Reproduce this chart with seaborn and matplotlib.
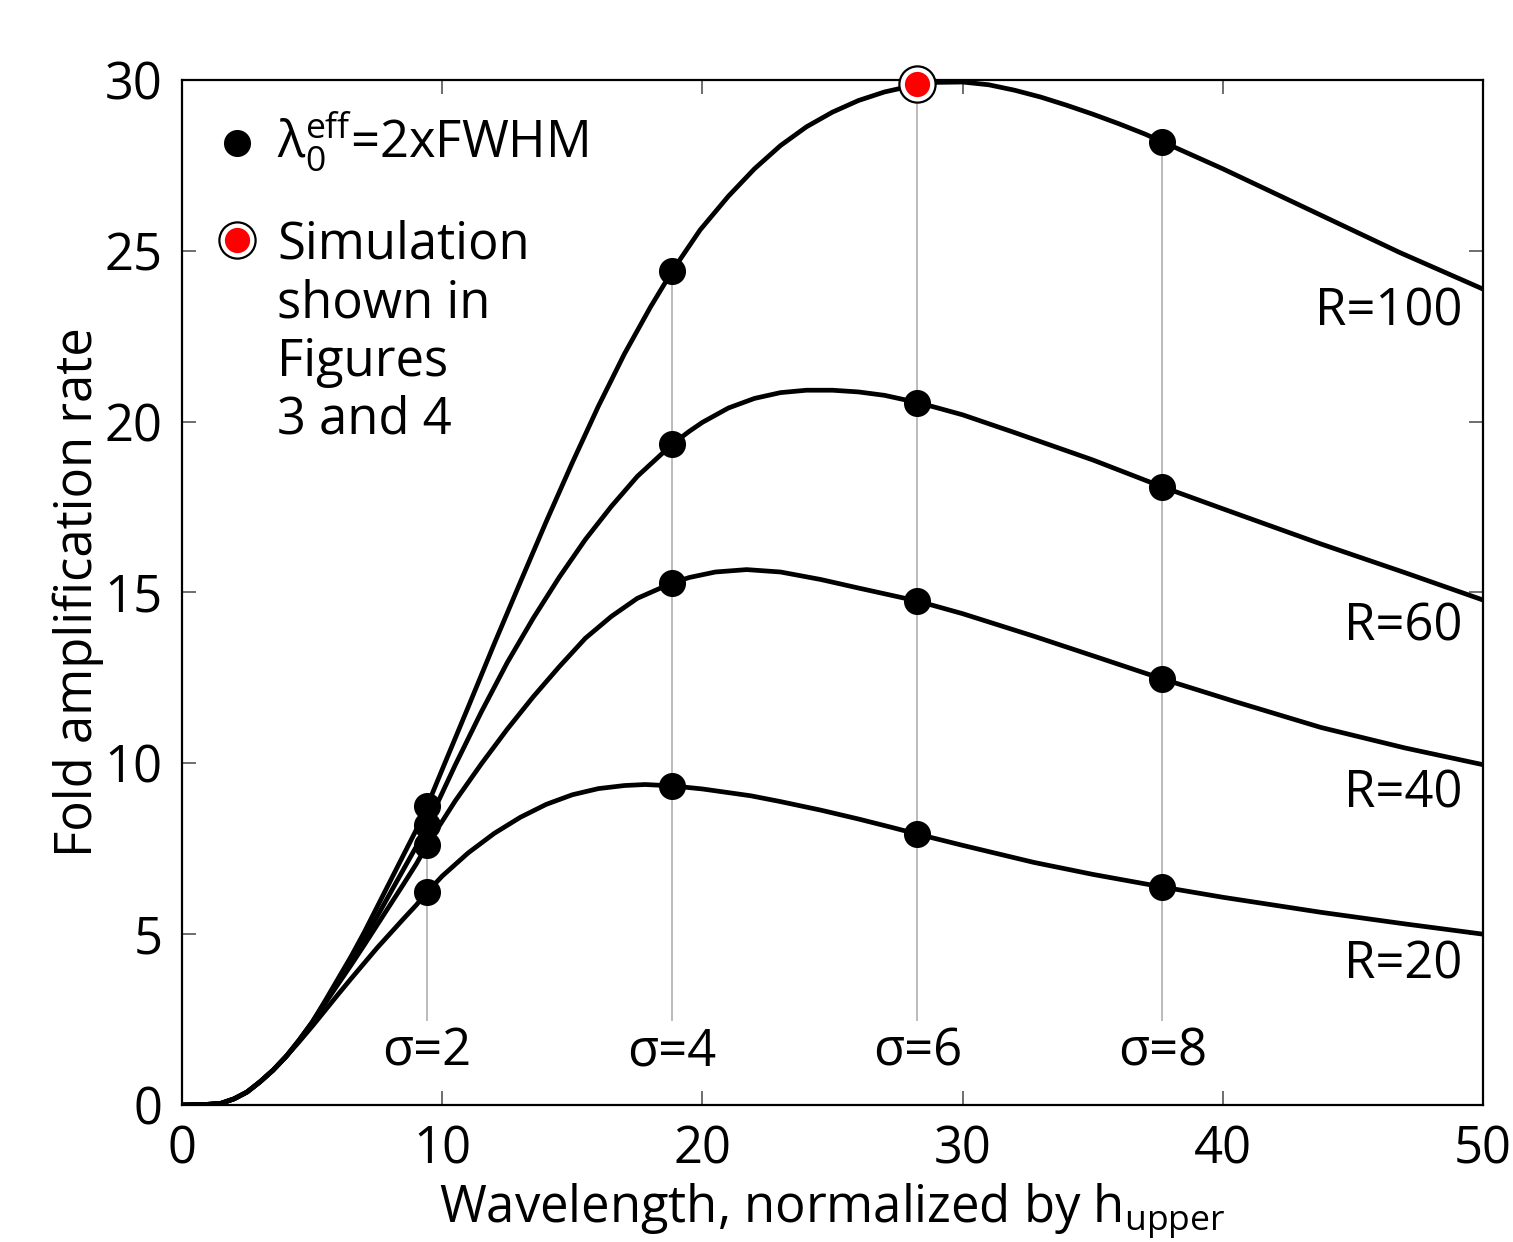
import pandas as pd
import matplotlib
matplotlib.use("Agg")
import matplotlib.pyplot as plt
import seaborn as sns

# curve samples (x = wavelength normalized by h_upper)
x_early = [0, 1, 1.5, 2, 2.5, 3, 3.5, 4, 4.5, 5, 5.5, 6, 6.5, 7, 7.5, 8, 8.5, 9, 9.42]

x_r100 = x_early + [10, 11, 12, 13, 14, 15, 16, 17, 18, 18.84, 19.91, 21, 22, 23, 24, 25,
                    26, 27, 28, 28.26, 29, 30, 31, 32, 33, 34, 35, 36, 37, 37.68, 40, 43,
                    46.8, 50]
y_r100 = [0, 0.02, 0.05, 0.18, 0.38, 0.68, 1.02, 1.42, 1.9, 2.42, 3.05, 3.7, 4.35, 5.05,
          5.8, 6.55, 7.3, 8.05, 8.75,
          9.82, 11.65, 13.5, 15.3, 17.08, 18.8, 20.45, 21.98, 23.35, 24.41, 25.61, 26.6,
          27.4, 28.08, 28.63, 29.06, 29.4, 29.65, 29.82, 29.86, 29.93, 29.94, 29.86,
          29.7, 29.5, 29.26, 29.0, 28.72, 28.42, 28.19, 27.4, 26.32, 24.95, 23.88]

x_r60 = x_early + [10.5, 11.5, 12.5, 13.5, 14.5, 15.5, 16.5, 17.5, 18.84, 19.5, 20, 21,
                   22, 23, 24, 25, 26, 27, 28.26, 29, 30, 32, 35, 37.68, 40, 43.77, 47, 50]
y_r60 = [0, 0.02, 0.05, 0.18, 0.38, 0.68, 1.02, 1.42, 1.9, 2.42, 3.0, 3.6, 4.22, 4.86,
         5.52, 6.2, 6.88, 7.56, 8.19,
         9.95, 11.5, 12.95, 14.25, 15.45, 16.55, 17.52, 18.4, 19.34, 19.72, 19.98, 20.4,
         20.68, 20.85, 20.92, 20.92, 20.87, 20.77, 20.56, 20.41, 20.2, 19.68, 18.88,
         18.09, 17.45, 16.42, 15.58, 14.78]

x_r40 = x_early + [10.5, 11.5, 12.5, 13.5, 14.5, 15.5, 16.5, 17.5, 18.84, 19.5, 20.5,
                   21.7, 23, 24.55, 26, 27.25, 28.26, 30, 32.74, 35, 37.68, 40.5, 43.77,
                   47, 50]
y_r40 = [0, 0.02, 0.05, 0.18, 0.38, 0.68, 1.02, 1.42, 1.88, 2.4, 2.98, 3.54, 4.1, 4.68,
         5.27, 5.86, 6.45, 7.05, 7.61,
         8.9, 9.98, 11.0, 11.95, 12.83, 13.66, 14.3, 14.83, 15.28, 15.44, 15.6, 15.67,
         15.6, 15.38, 15.13, 14.92, 14.75, 14.38, 13.72, 13.15, 12.47, 11.8, 11.05,
         10.45, 9.96]

x_r20 = x_early + [10, 11, 12, 13, 14, 15, 16, 17, 17.8, 18.84, 20, 21.86, 23, 24.55, 26,
                   27.25, 28.26, 30, 32.74, 35, 37.68, 40, 43.77, 47, 50]
y_r20 = [0, 0.02, 0.05, 0.18, 0.38, 0.68, 1.02, 1.42, 1.85, 2.3, 2.77, 3.24, 3.7, 4.15,
         4.6, 5.02, 5.44, 5.85, 6.23,
         6.7, 7.38, 7.95, 8.42, 8.8, 9.08, 9.26, 9.35, 9.38, 9.34, 9.25, 9.05, 8.88,
         8.63, 8.37, 8.13, 7.93, 7.6, 7.1, 6.75, 6.38, 6.08, 5.64, 5.3, 5.0]

# lambda_0^eff = 2 x FWHM points for sigma = 2, 4, 6, 8
sigmas = [2, 4, 6, 8]
x_sigma = [9.42, 18.84, 28.26, 37.68]
mark_r100 = [8.75, 24.41, 29.88, 28.19]
mark_r60 = [8.19, 19.34, 20.54, 18.09]
mark_r40 = [7.61, 15.28, 14.75, 12.47]
mark_r20 = [6.23, 9.34, 7.93, 6.38]

# simulation shown in figures 3 and 4
sim_x = [28.26]
sim_y = [29.88]

r_names = ["R=100", "R=60", "R=40", "R=20"]
r_label_y = [23.2, 14.0, 9.1, 4.1]

curves = pd.concat([
    pd.DataFrame({"x": x_r100, "y": y_r100, "R": "R=100"}),
    pd.DataFrame({"x": x_r60, "y": y_r60, "R": "R=60"}),
    pd.DataFrame({"x": x_r40, "y": y_r40, "R": "R=40"}),
    pd.DataFrame({"x": x_r20, "y": y_r20, "R": "R=20"}),
])
marks = pd.concat([
    pd.DataFrame({"x": x_sigma, "y": m, "R": r})
    for m, r in zip([mark_r100, mark_r60, mark_r40, mark_r20], r_names)
])

sns.set_style("ticks")
plt.rcParams["font.family"] = ["Open Sans", "DejaVu Sans"]
plt.rcParams["mathtext.fontset"] = "custom"
plt.rcParams["mathtext.rm"] = "Open Sans"
plt.rcParams["mathtext.it"] = "Open Sans"
plt.rcParams["mathtext.bf"] = "Open Sans"
plt.rcParams["text.color"] = "black"
plt.rcParams["axes.labelcolor"] = "black"

fs = 36.5

fig = plt.figure(figsize=(15.13, 12.42), dpi=100)
ax = fig.add_axes([0.1203, 0.1103, 0.8599, 0.8253])

# thin grey guides at each sigma
ax.vlines(x_sigma, 2.45, mark_r100, color="#a8a8a8", lw=1.1, zorder=1)

sns.lineplot(data=curves, x="x", y="y", hue="R", palette={r: "black" for r in r_names},
             estimator=None, sort=False, lw=3.4, legend=False, ax=ax, zorder=2)
sns.scatterplot(data=marks, x="x", y="y", color="black", s=380, linewidth=0,
                legend=False, ax=ax, zorder=3)

# simulation symbol: red dot in a black ring
ax.scatter(sim_x, sim_y, s=680, facecolor="white", edgecolor="black", lw=1.6, zorder=4,
           clip_on=False)
ax.scatter(sim_x, sim_y, s=330, color="red", lw=0, zorder=5, clip_on=False)

for s, xs in zip(sigmas, x_sigma):
    ax.text(xs, 1.55, f"σ={s}", ha="center", va="center", fontsize=fs)

for name, ly in zip(r_names, r_label_y):
    ax.text(49.2, ly, name, ha="right", va="center", fontsize=fs)

# key in the upper left corner
ax.scatter([2.11], [28.15], s=380, color="black", lw=0, zorder=5)
ax.text(3.65, 28.24, "λ$_0^{eff}$=2xFWHM", ha="left", va="center", fontsize=fs)
ax.scatter([2.11], [25.31], s=680, facecolor="white", edgecolor="black", lw=1.6, zorder=5)
ax.scatter([2.11], [25.31], s=330, color="red", lw=0, zorder=6)
ax.text(3.65, 25.91, "Simulation\nshown in\nFigures\n3 and 4", ha="left", va="top",
        fontsize=fs, linespacing=1.19)

ax.set_xlim(0, 50)
ax.set_ylim(0, 30)
ax.set_xticks([0, 10, 20, 30, 40, 50])
ax.set_yticks([0, 5, 10, 15, 20, 25, 30])
ax.tick_params(direction="in", length=10, width=1.2, color="#555555", labelcolor="black",
               labelsize=fs, top=True, right=True, pad=14)
for sp in ax.spines.values():
    sp.set_linewidth(1.6)
    sp.set_color("black")

ax.set_xlabel("Wavelength, normalized by h$_{upper}$", fontsize=fs, labelpad=4)
ax.set_ylabel("Fold amplification rate", fontsize=fs, labelpad=0)

fig.savefig("out.png", dpi=100)
